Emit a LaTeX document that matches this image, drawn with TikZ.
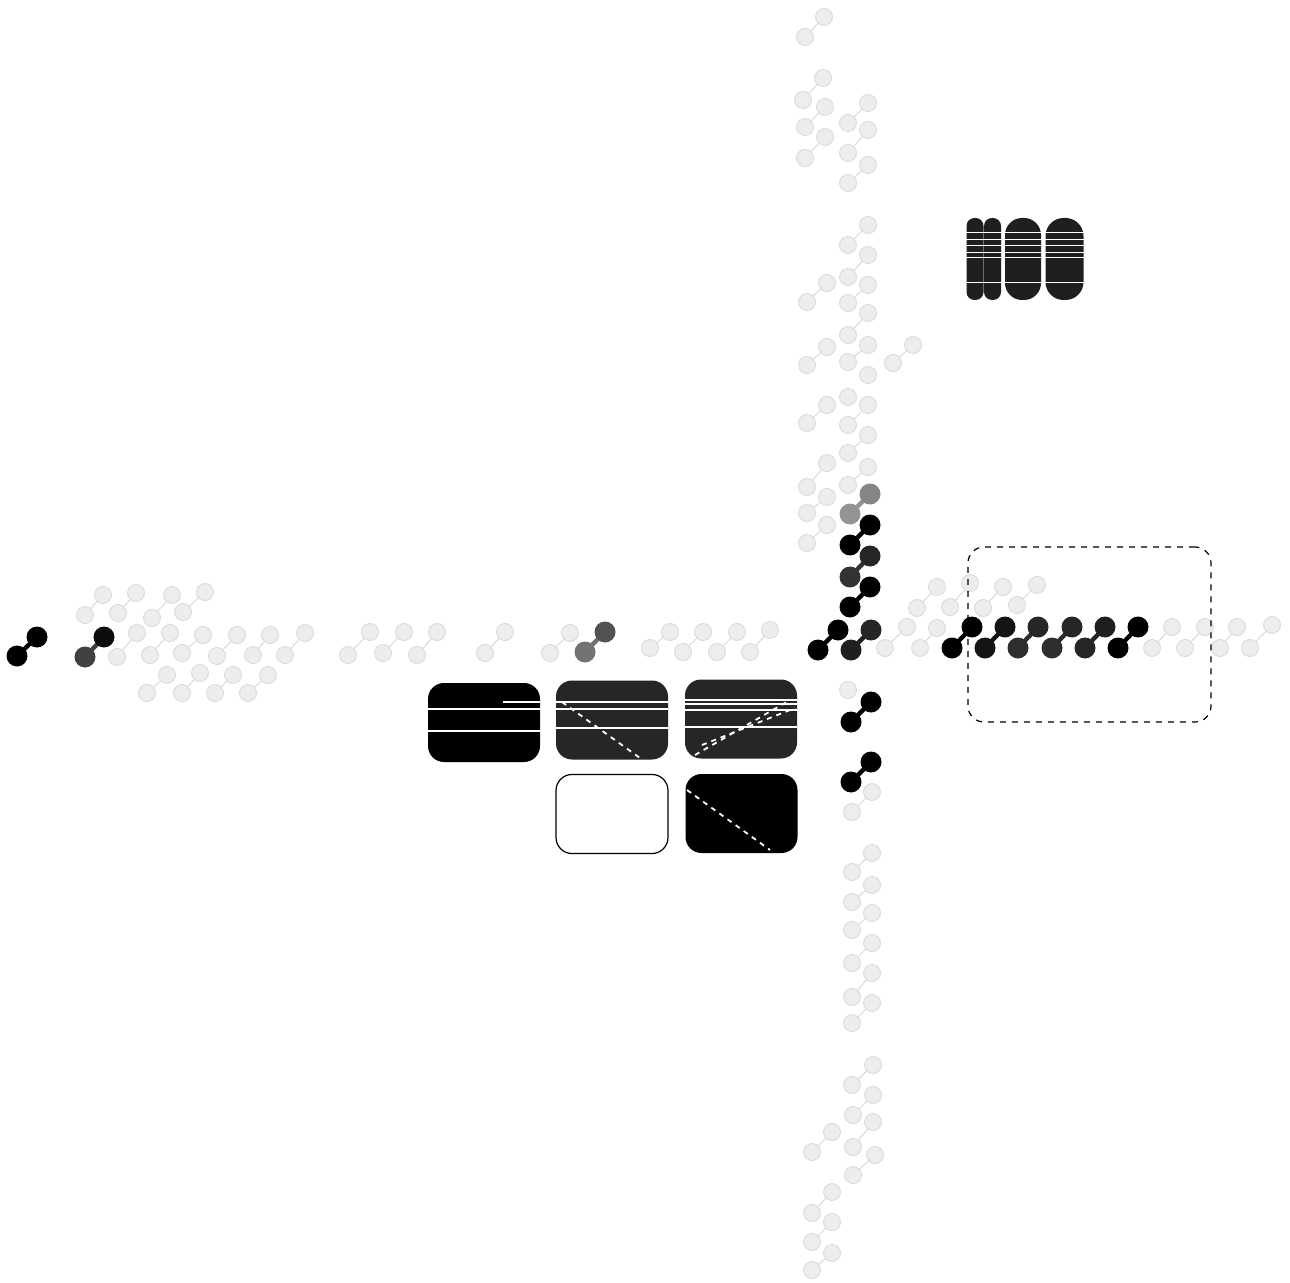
\documentclass[tikz,border=0pt]{standalone}
\usetikzlibrary{calc}
\newcounter{dcnt}
\tikzset{
  gball/.style={circle, inner sep=0pt, minimum size=8.5pt, fill=gray!14, draw=gray!30, line width=0.4pt},
  glink/.style={draw=gray!30, line width=0.5pt},
  dball/.style={circle, inner sep=0pt, minimum size=10.5pt, draw=none},
  dlink/.style={line width=2.2pt},
  panel/.style={rounded corners=8pt, inner sep=0pt, minimum width=56pt, minimum height=39.5pt},
  capsule/.style={inner sep=0pt, fill=black!88, minimum height=41pt},
  wline/.style={draw=white, line width=0.7pt},
  wdash/.style={draw=white, line width=0.9pt, dash pattern=on 2.5pt off 2.5pt},
}
\newcommand\mygd[4]{\stepcounter{dcnt}%
  \node[gball] (ga\arabic{dcnt}) at (#1,#2) {};
  \node[gball] (gb\arabic{dcnt}) at (#3,#4) {};
  \draw[glink] (ga\arabic{dcnt}) -- (gb\arabic{dcnt});}
\newcommand\mygc[2]{\stepcounter{dcnt}%
  \node[gball] (gs\arabic{dcnt}) at (#1,#2) {};}
\newcommand\mydd[6]{\stepcounter{dcnt}%
  \draw[dlink, draw=#5] (#1,#2) -- (#3,#4);
  \node[dball, fill=#5] (da\arabic{dcnt}) at (#1,#2) {};
  \node[dball, fill=#6] (db\arabic{dcnt}) at (#3,#4) {};}
\begin{document}
\begin{tikzpicture}[x=0.5pt, y=-0.5pt]
\useasboundingbox[fill=white] (0,0) rectangle (1290,1283);

% ---------- faint dimers: left cluster
\mygd{85}{615}{103}{595}
\mygd{118}{613}{136}{593}
\mygd{152}{618}{172}{595}
\mygd{183}{612}{205}{592}
\mygd{117}{657}{137}{633}
\mygd{150}{655}{170}{633}
\mygd{182}{653}{203}{635}
\mygd{217}{656}{237}{635}
\mygd{253}{655}{270}{635}
\mygd{285}{655}{305}{633}
\mygd{147}{693}{167}{675}
\mygd{182}{693}{200}{673}
\mygd{215}{693}{233}{675}
\mygd{248}{693}{268}{675}
% middle row
\mygd{348}{655}{370}{632}
\mygd{383}{653}{404}{632}
\mygd{417}{655}{437}{632}
\mygd{485}{653}{505}{632}
\mygd{550}{653}{570}{633}
\mygd{650}{648}{670}{632}
\mygd{683}{652}{703}{632}
\mygd{717}{652}{737}{632}
\mygd{750}{652}{770}{630}
% top column
\mygd{805}{37}{824}{17}
\mygd{803}{100}{823}{78}
\mygd{805}{127}{825}{107}
\mygd{805}{158}{825}{137}
\mygd{848}{123}{868}{103}
\mygd{848}{153}{868}{130}
\mygd{848}{183}{868}{165}
\mygd{848}{245}{868}{225}
\mygd{848}{277}{868}{255}
\mygd{807}{302}{827}{283}
\mygd{848}{303}{868}{285}
\mygd{848}{335}{868}{313}
\mygd{807}{365}{827}{347}
\mygd{848}{362}{868}{345}
\mygd{893}{363}{913}{345}
\mygc{868}{375}
\mygc{848}{397}
\mygd{807}{423}{827}{405}
\mygd{848}{425}{868}{405}
\mygd{848}{453}{868}{435}
\mygd{848}{485}{868}{467}
\mygd{807}{487}{827}{463}
\mygd{807}{513}{827}{497}
\mygd{807}{543}{827}{525}
% bottom column
\mygc{848}{690}
\mygd{852}{812}{872}{792}
\mygd{852}{872}{872}{853}
\mygd{852}{902}{872}{885}
\mygd{852}{930}{872}{913}
\mygd{852}{963}{872}{943}
\mygd{852}{997}{872}{973}
\mygd{852}{1023}{872}{1003}
\mygd{852}{1085}{873}{1065}
\mygd{853}{1115}{873}{1095}
\mygd{853}{1147}{873}{1122}
\mygd{812}{1152}{832}{1132}
\mygd{853}{1175}{875}{1155}
\mygd{812}{1213}{832}{1192}
\mygd{812}{1242}{832}{1222}
\mygd{812}{1270}{832}{1253}
% right side
\mygd{917}{608}{937}{587}
\mygd{950}{607}{970}{583}
\mygd{983}{608}{1003}{587}
\mygd{1017}{605}{1037}{585}
\mygd{885}{648}{907}{627}
\mygd{920}{648}{937}{628}
\mygd{1152}{648}{1172}{627}
\mygd{1185}{648}{1205}{627}
\mygd{1220}{648}{1237}{627}
\mygd{1250}{648}{1272}{625}

% ---------- dark dimers
\mydd{17}{656}{37}{637}{black}{black}
\mydd{85}{657}{104}{637}{black!75}{black!95}
\mydd{585}{652}{605}{632}{black!55}{black!68}
\mydd{850}{514}{870}{494}{black!42}{black!48}
\mydd{850}{545}{870}{525}{black}{black}
\mydd{850}{577}{870}{556}{black!80}{black!85}
\mydd{850}{607}{870}{587}{black}{black}
\mydd{818}{650}{838}{630}{black}{black}
\mydd{851}{650}{871}{630}{black!88}{black!85}
\mydd{851}{722}{871}{702}{black}{black}
\mydd{851}{782}{871}{762}{black}{black}
\mydd{952}{648}{972}{627}{black}{black}
\mydd{985}{648}{1005}{627}{black!92}{black!92}
\mydd{1018}{648}{1038}{627}{black!82}{black!85}
\mydd{1052}{648}{1072}{627}{black!82}{black!85}
\mydd{1085}{648}{1105}{627}{black!85}{black!88}
\mydd{1118}{648}{1138}{627}{black}{black}

% ---------- dashed frame
\node[draw, dashed, line width=0.6pt, rounded corners=8pt, inner sep=0pt,
      minimum width=121.5pt, minimum height=87.5pt] (frame) at (1089.5,634.5) {};

% ---------- panels
\node[panel, fill=black] (p1) at (484,722.5) {};
\node[panel, fill=black!85] (p2) at (612,720) {};
\node[panel, fill=black!85] (p3) at (741,719) {};
\node[panel, draw=black, line width=0.6pt, fill=white] (p4) at (612,814) {};
\node[panel, fill=black] (p5) at (741.5,813.5) {};
% white streaks
\draw[wline] (503,702) -- (540,702);
\draw[wline] (428,709) -- (540,709);
\draw[wline] (428,731) -- (540,731);
\draw[wline] (556,702) -- (668,702);
\draw[wline] (556,709) -- (668,709);
\draw[wline] (556,728) -- (668,728);
\draw[wdash] (562,702) -- (640,758);
\draw[wline] (685,700) -- (797,700);
\draw[wline] (685,704) -- (797,704);
\draw[wline] (685,710) -- (797,710);
\draw[wline] (685,727) -- (797,727);
\draw[wdash] (695,755) -- (790,700);
\draw[wdash] (702,745) -- (795,708);
\draw[wdash] (687,790) -- (770,850);

% ---------- capsules
\node[capsule, minimum width=8.5pt, rounded corners=4pt] (c1) at (975,259) {};
\node[capsule, minimum width=8.5pt, rounded corners=4pt] (c2) at (992.5,259) {};
\node[capsule, minimum width=18pt, rounded corners=8.5pt] (c3) at (1023,259) {};
\node[capsule, minimum width=19pt, rounded corners=9pt] (c4) at (1064.5,259) {};
\foreach \yy in {233,240,246,253,258,283}
  \draw[wline, line width=0.5pt] (966,\yy) -- (1085,\yy);
\end{tikzpicture}
\end{document}
